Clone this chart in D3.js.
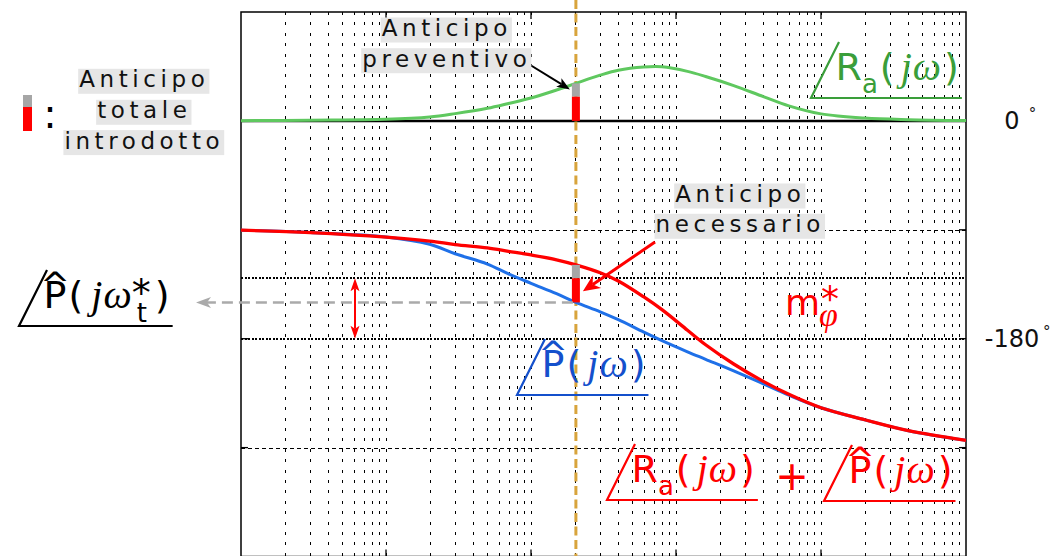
<!DOCTYPE html>
<html>
<head>
<meta charset="utf-8">
<script src="https://cdn.jsdelivr.net/npm/d3@7"></script>
<style>
  html, body { margin: 0; padding: 0; background: #fff; }
  svg { display: block; }
</style>
</head>
<body>
<svg id="chart" width="1052" height="556"></svg>
<script>
// Frequency samples (rad/s) shared by the three phase curves
const omega    = [0.01, 0.03, 0.1, 0.2, 0.3, 0.5, 0.7, 1, 1.5, 2.04, 3, 4, 6, 8, 12, 16, 25, 40, 60, 100, 200, 400, 1000];
// Phase of the lead network ∠R_a(jω), degrees
const phaseRa  = [0.2, 0.6, 1.3, 3.2, 6.0, 10.4, 14.4, 18.9, 25.5, 31, 37.8, 41.9, 44.5, 44.7, 40.9, 36.7, 29.2, 20.1, 12.4, 5.8, 2.3, 1.0, 0.3];
// Phase of the plant ∠P̂(jω), degrees
const phaseP   = [-90.3, -92.3, -96.0, -102.0, -109.8, -118.3, -126.4, -134.2, -142.8, -150, -157.8, -164.3, -174.6, -181.6, -190.8, -197, -206.6, -217.3, -226.7, -237.1, -247, -256, -264];
// Phase of the compensated loop ∠R_a(jω) + ∠P̂(jω), degrees
const phaseSum = [-90.3, -92.3, -96.0, -99.3, -102.2, -105, -107.8, -110.8, -114.8, -119, -125.5, -132.3, -145.5, -156, -173, -185, -200.9, -215.3, -226, -237.1, -247, -256, -264];

// Desired crossover and phase margin
const crossIndex = 9;           // omega[9] = ω*_t
const marginTarget = 50;        // m*_φ, degrees
// Axis tick values and labels (degrees)
const yTickValues = [90, 0, -90, -180, -270, -360];
const yGridDashed = [-90, -270];
const yTickLabels = [{ v: 0, s: "0" }, { v: -180, s: "-180" }];

const SANS = "DejaVu Sans";
const SERIF = "Liberation Serif";

const svg = d3.select("#chart");
const x = d3.scaleLog().domain([0.01, 1000]).range([241, 966]);
const y = d3.scaleLinear().domain([90, -360]).range([12, 556.5]);
const [X0, X1] = x.range();
const [Y0, Y1] = y.range();
const px = v => Math.round(v) + 0.5;

const wt = omega[crossIndex];
const lineTarget = -180 + marginTarget;

// ---------- grid ----------
const gridX = x.ticks().filter(v => v > 0.0101 && v < 999);
svg.append("g").attr("shape-rendering", "crispEdges").selectAll("line").data(gridX).join("line")
  .attr("x1", d => px(x(d))).attr("x2", d => px(x(d)))
  .attr("y1", Y0).attr("y2", Y1)
  .attr("stroke", "#000").attr("stroke-width", 1)
  .attr("stroke-dasharray", "3,7.4");

svg.append("g").attr("shape-rendering", "crispEdges").selectAll("line").data(yGridDashed).join("line")
  .attr("x1", X0).attr("x2", X1)
  .attr("y1", d => px(y(d))).attr("y2", d => px(y(d)))
  .attr("stroke", "#000").attr("stroke-width", 1)
  .attr("stroke-dasharray", "3.5,3.5");

// -180° and target phase lines
svg.append("g").attr("shape-rendering", "crispEdges").selectAll("line").data([lineTarget, -180]).join("line")
  .attr("x1", X0).attr("x2", X1)
  .attr("y1", d => Math.round(y(d))).attr("y2", d => Math.round(y(d)))
  .attr("stroke", "#000").attr("stroke-width", 2)
  .attr("stroke-dasharray", "2,1.5");

// decade ticks (top and bottom, inside)
const decades = x.ticks().filter(v => Math.abs(Math.log10(v) - Math.round(Math.log10(v))) < 1e-6 && v > 0.0101 && v < 999);
const tk = svg.append("g").attr("stroke", "#000").attr("stroke-width", 1.3);
decades.forEach(d => {
  tk.append("line").attr("x1", x(d)).attr("x2", x(d)).attr("y1", Y0).attr("y2", Y0 + 7);
  tk.append("line").attr("x1", x(d)).attr("x2", x(d)).attr("y1", Y1 - 7).attr("y2", Y1);
});
yTickValues.filter(v => v < 90 && v > -360).forEach(v => {
  tk.append("line").attr("x1", X1 - 7).attr("x2", X1).attr("y1", y(v)).attr("y2", y(v));
  tk.append("line").attr("x1", X0).attr("x2", X0 + 7).attr("y1", y(v)).attr("y2", y(v));
});

// frame
svg.append("rect").attr("x", X0).attr("y", Y0).attr("width", X1 - X0).attr("height", Y1 - Y0)
  .attr("fill", "none").attr("stroke", "#000").attr("stroke-width", 1.5);

// 0° reference line
svg.append("line").attr("x1", X0).attr("x2", X1).attr("y1", y(0)).attr("y2", y(0))
  .attr("stroke", "#000").attr("stroke-width", 2.5);

// right-hand tick labels
const tl = svg.append("g").attr("font-family", SANS).attr("fill", "#111");
yTickLabels.forEach(t => {
  const txt = tl.append("text").attr("x", 1012).attr("y", y(t.v) + 8).attr("text-anchor", "middle")
    .attr("font-size", 24).text(t.s);
  const w = txt.node().getComputedTextLength();
  tl.append("text").attr("x", Math.min(1012 + w / 2 + 9, 1043)).attr("y", y(t.v) - 2).attr("font-size", 15).text("°");
});

// crossover frequency marker
svg.append("line").attr("x1", x(wt)).attr("x2", x(wt)).attr("y1", 0).attr("y2", 556)
  .attr("stroke", "#d8a43c").attr("stroke-width", 3).attr("stroke-dasharray", "9,4.5");

// ---------- curves ----------
const line = vals => d3.line().x((d, i) => x(omega[i])).y(d => y(d)).curve(d3.curveCatmullRom.alpha(0.5))(vals);
svg.append("path").attr("d", line(phaseRa)).attr("fill", "none").attr("stroke", "#5fc85f").attr("stroke-width", 3);
svg.append("path").attr("d", line(phaseP)).attr("fill", "none").attr("stroke", "#1f70e8").attr("stroke-width", 3);
svg.append("path").attr("d", line(phaseSum)).attr("fill", "none").attr("stroke", "#ff0000").attr("stroke-width", 3.3);

// ---------- lead bars at ω*_t ----------
const neededLead = lineTarget - phaseP[crossIndex];
const barW = 8;
const bx = x(wt) - barW / 2;
function bar(v0, v1, color) {
  svg.append("rect").attr("x", bx).attr("width", barW)
    .attr("y", y(Math.max(v0, v1))).attr("height", Math.abs(y(v0) - y(v1))).attr("fill", color);
}
// lead introduced by R_a, on top of 0°
bar(neededLead, phaseRa[crossIndex], "#a6a6a6");
bar(0, neededLead, "#ff0000");
// same lead on the loop phase
bar(lineTarget, phaseSum[crossIndex], "#a6a6a6");
bar(phaseP[crossIndex], lineTarget, "#ff0000");

// legend bar
svg.append("rect").attr("x", 23).attr("y", 95).attr("width", 9).attr("height", 12).attr("fill", "#a6a6a6");
svg.append("rect").attr("x", 23).attr("y", 107).attr("width", 9).attr("height", 24).attr("fill", "#ff0000");
svg.append("text").attr("x", 50).attr("y", 127.5).attr("text-anchor", "middle")
  .attr("font-family", SANS).attr("font-size", 40).attr("fill", "#000").text(":");

// ---------- arrows ----------
function head(x1, y1, x2, y2, len, hw, notch) {
  const a = Math.atan2(y2 - y1, x2 - x1);
  const ux = Math.cos(a), uy = Math.sin(a);
  const bx_ = x2 - ux * len, by_ = y2 - uy * len;
  const nx = x2 - ux * (len - notch), ny = y2 - uy * (len - notch);
  return `M${x2},${y2}L${bx_ - uy * hw},${by_ + ux * hw}L${nx},${ny}L${bx_ + uy * hw},${by_ - ux * hw}Z`;
}
function arrow(x1, y1, x2, y2, color, w, len, hw, notch, dash, both) {
  const a = Math.atan2(y2 - y1, x2 - x1);
  const sx = both ? x1 + Math.cos(a) * (len - notch) : x1, sy = both ? y1 + Math.sin(a) * (len - notch) : y1;
  const ex = x2 - Math.cos(a) * (len - notch), ey = y2 - Math.sin(a) * (len - notch);
  svg.append("line").attr("x1", sx).attr("y1", sy).attr("x2", ex).attr("y2", ey)
    .attr("stroke", color).attr("stroke-width", w).attr("stroke-dasharray", dash || null);
  svg.append("path").attr("d", head(x1, y1, x2, y2, len, hw, notch)).attr("fill", color);
  if (both) svg.append("path").attr("d", head(x2, y2, x1, y1, len, hw, notch)).attr("fill", color);
}
// projection of ∠P̂(jω*_t) onto the left label
arrow(x(wt) - 3, y(phaseP[crossIndex]), 196, y(phaseP[crossIndex]), "#aaaaaa", 2.5, 15, 5.5, 4, "11,6");
// phase margin
arrow(355, y(lineTarget), 355, y(-180), "#ff0000", 2, 13, 4.5, 3, null, true);
// "Anticipo preventivo"
arrow(527, 63, x(wt) - 6, y(phaseRa[crossIndex]) + 6, "#000", 2, 13, 5, 3);
// "Anticipo necessario"
arrow(655, 242, x(wt) + 7, (y(lineTarget) + y(phaseP[crossIndex])) / 2 + 1, "#ff0000", 3, 17, 7.5, 5);

// ---------- boxed annotations ----------
function boxed(cx, baselines, lines) {
  const ls = 4.6;
  lines.forEach((s, i) => {
    const g = svg.append("g");
    const r = g.append("rect");
    const t = g.append("text").attr("x", cx + ls / 2).attr("y", baselines[i]).attr("text-anchor", "middle")
      .attr("font-family", SANS).attr("font-size", 23).attr("letter-spacing", ls)
      .attr("fill", "#111").text(s);
    const bb = t.node().getBBox();
    r.attr("x", bb.x - 1).attr("y", baselines[i] - 18.5).attr("width", bb.width + 1)
      .attr("height", 25).attr("fill", "#e6e6e6");
  });
}
boxed(142, [87.3, 118.3, 148.6], ["Anticipo", "totale", "introdotto"]);
boxed(444.5, [36, 66.7], ["Anticipo", "preventivo"]);
boxed(738, [202, 232.3], ["Anticipo", "necessario"]);

// ---------- angle labels ----------
function angleLabel(edge, base, color, parts) {
  const g = svg.append("g").attr("fill", color);
  let cx = edge - 3.5;
  parts.forEach(p => {
    if (p.gap) { cx += p.gap; return; }
    const t = g.append("text").attr("x", cx + (p.dx || 0)).attr("y", base + (p.dy || 0))
      .attr("font-family", p.serif ? SERIF : SANS).attr("font-size", p.size || 38)
      .attr("font-style", p.serif ? "italic" : null).text(p.s);
    const w = t.node().getComputedTextLength();
    if (p.hat) {
      g.append("text").attr("x", cx + w / 2).attr("y", base - 11).attr("text-anchor", "middle")
        .attr("font-family", SANS).attr("font-size", 36).text("^");
    }
    if (!p.hold) cx += w + (p.dx || 0);
  });
  const path = `M${edge},${base - 38}L${edge - 28},${base + 18}L${cx + 3},${base + 18}`;
  g.append("path").attr("d", path).attr("fill", "none").attr("stroke", color).attr("stroke-width", 2.2);
  return cx;
}
const partsRa = [
  { s: "R" }, { s: "a", size: 26, dy: 13 }, { gap: 2 }, { s: "(" }, { gap: 6 },
  { s: "j", serif: true, size: 40 }, { gap: 1 }, { s: "ω", serif: true, size: 40 }, { gap: 3 }, { s: ")" }
];
const partsP = [
  { s: "P", hat: true }, { gap: 2 }, { s: "(" }, { gap: 6 },
  { s: "j", serif: true, size: 40 }, { gap: 1 }, { s: "ω", serif: true, size: 40 }, { gap: 3 }, { s: ")" }
];
const partsPt = [
  { s: "P", hat: true }, { gap: 2 }, { s: "(" }, { gap: 8 },
  { s: "j", serif: true, size: 40 }, { gap: 1 }, { s: "ω", serif: true, size: 40 },
  { s: "*", size: 38, dy: -2, hold: true }, { s: "t", size: 26, dy: 14, dx: 5 }, { gap: 8 }, { s: ")" }
];
angleLabel(839, 80, "#3a9e3a", partsRa);
angleLabel(545, 377, "#1450cc", partsP);
angleLabel(635, 482, "#ff0000", partsRa);
svg.append("text").attr("x", 792).attr("y", 490).attr("text-anchor", "middle")
  .attr("font-family", SANS).attr("font-size", 40).attr("fill", "#ff0000").text("+");
angleLabel(852, 483, "#ff0000", partsP);
angleLabel(47, 308, "#000", partsPt);

// phase margin symbol m*_φ
const mg = svg.append("g").attr("fill", "#ff0000");
const mt = mg.append("text").attr("x", 785).attr("y", 315).attr("font-family", SANS).attr("font-size", 36).text("m");
const mw = mt.node().getComputedTextLength();
mg.append("text").attr("x", 785 + mw + 1).attr("y", 311).attr("font-family", SANS).attr("font-size", 36).text("*");
mg.append("text").attr("x", 785 + mw - 1).attr("y", 326).attr("font-family", SERIF).attr("font-style", "italic")
  .attr("font-size", 34).text("φ");
</script>
</body>
</html>
